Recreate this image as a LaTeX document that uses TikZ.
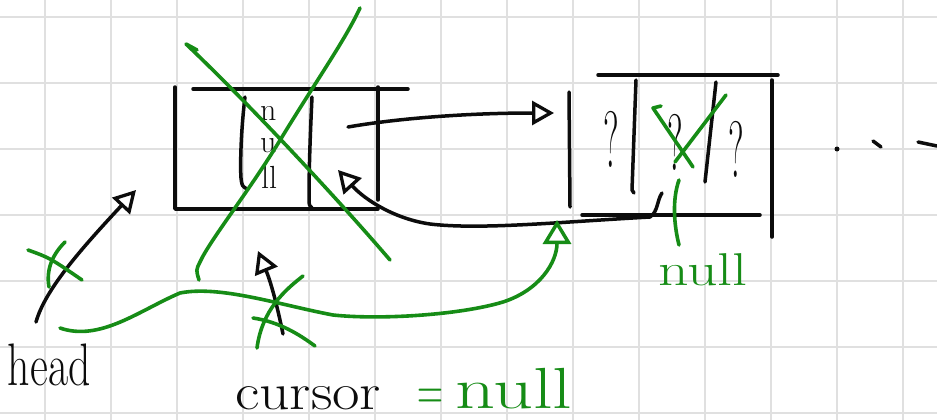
\documentclass[tikz,border=0pt]{standalone}
\usetikzlibrary{arrows.meta}
\definecolor{pen}{RGB}{12,12,12}
\definecolor{grn}{RGB}{22,140,22}
\definecolor{gridc}{RGB}{224,224,224}
\tikzset{
  ink/.style={pen, line width=3.5pt, line cap=round, line join=round},
  gink/.style={grn, line width=3.6pt, line cap=round, line join=round},
  gridl/.style={gridc, line width=1.8pt},
  tipk/.style={-{Triangle[open, length=22pt, width=24pt, line width=3.3pt]}},
  tipg/.style={-{Triangle[open, length=24pt, width=28pt, line width=3.5pt]}},
  lbl/.style={anchor=base west, inner sep=0pt, outer sep=0pt},
}
\begin{document}
\begin{tikzpicture}[x=1pt,y=-1pt]
\useasboundingbox (0,0) rectangle (937,420);
\fill[white] (0,0) rectangle (937,420);
% grid paper
\foreach \gx in {45,111,...,903} \draw[gridl] (\gx,0) -- (\gx,420);
\foreach \gy in {17,83,...,413} \draw[gridl] (0,\gy) -- (937,\gy);

% ---------- first node ----------
\draw[ink] (175,87) -- (175,209) -- (378,209);
\draw[ink] (193,89) -- (408,89);
\draw[ink] (245,97) .. controls (241,130) and (240,165) .. (241,178) .. controls (242,186) .. (247,189);
\draw[ink] (312,97) .. controls (310,140) and (309,170) .. (309,198) .. controls (309,205) .. (312,208);
\draw[ink] (378,87) -- (378,200);
\node[lbl, pen] (n1) at (260,121) {\fontsize{32}{32}\selectfont n};
\node[lbl, pen] (n2) at (260,152) {\fontsize{32}{32}\selectfont u};
\node[lbl, pen] (n3) at (261,188) {\fontsize{32}{32}\selectfont ll};

% ---------- second node ----------
\draw[ink] (569,92) -- (570,207);
\draw[ink] (598,75) -- (778,75);
\draw[ink] (636,80) -- (632,190) -- (634,193);
\draw[ink] (716,82) -- (705,182);
\draw[ink] (772,80) -- (772,237);
\draw[ink] (582,215) -- (760,215);
\node[lbl, pen] (q1) at (603,167) {\scalebox{0.45}[1]{\fontsize{80}{80}\selectfont ?}};
\node[lbl, pen] (q2) at (667,170) {\scalebox{0.45}[1]{\fontsize{80}{80}\selectfont ?}};
\node[lbl, pen] (q3) at (728,177) {\scalebox{0.45}[1]{\fontsize{80}{80}\selectfont ?}};

% continuation dots
\fill[pen] (837,149) circle (2.5pt);
\draw[ink] (873,141) -- (881,147);
\draw[ink] (918,142) -- (937,146);

% ---------- arrows (black) ----------
\coordinate (a1s) at (348,127);
\coordinate (a1e) at (554,113);
\draw[ink, tipk] (a1s) .. controls (400,118) and (470,113) .. (a1e);

\coordinate (b0) at (662,193);
\coordinate (b1) at (650,217);
\coordinate (b2) at (338,170);
\draw[ink] (b0) .. controls (657,200) and (658,212) .. (b1);
\draw[ink, tipk] (b1) .. controls (560,222) and (480,230) .. (430,224) .. controls (395,219) and (365,200) .. (b2);

\coordinate (h0) at (36,322);
\coordinate (h1) at (136,190);
\draw[ink, tipk] (h0) .. controls (45,290) and (80,250) .. (h1);

\coordinate (c0) at (283,334);
\coordinate (c1) at (258,251);
\draw[ink, tipk] (c0) .. controls (276,300) and (270,280) .. (c1);

% ---------- green corrections ----------
\draw[gink] (197,50) -- (186,44) .. controls (240,95) and (330,190) .. (390,260);
\draw[gink] (360,8) .. controls (345,40) and (320,75) .. (282,137) .. controls (250,190) and (210,240) .. (200,262) .. controls (196,270) .. (199,280);
\draw[gink] (28,250) .. controls (50,258) .. (82,280);
\draw[gink] (65,242) .. controls (52,255) and (46,270) .. (49,287);
\draw[gink] (303,276) .. controls (285,290) and (262,310) .. (257,348);
\draw[gink] (253,318) .. controls (280,322) and (300,335) .. (315,346);

\coordinate (g0) at (60,328);
\coordinate (g1) at (557,220);
\draw[gink, tipg] (g0) .. controls (100,342) and (140,310) .. (180,293) .. controls (220,285) and (280,305) .. (333,315) .. controls (380,320) and (460,315) .. (503,302) .. controls (540,290) and (557,262) .. (g1);

\draw[gink] (661,106) -- (653,108) -- (693,167);
\draw[gink] (726,95) -- (675,162);
\draw[gink] (679,180) .. controls (672,200) and (674,225) .. (679,245);

% ---------- labels ----------
\node[lbl, pen] (head) at (8,385) {\scalebox{0.73}[1]{\fontsize{60}{60}\selectfont head}};
\node[lbl, pen] (cur) at (235,409) {\scalebox{1.15}[1]{\fontsize{52}{52}\selectfont cursor}};
\node[lbl, grn] (eq) at (417,410) {\scalebox{0.6}[1]{\fontsize{60}{60}\selectfont =}};
\node[lbl, grn] (nul) at (455,408) {\scalebox{1.35}[1]{\fontsize{58}{58}\selectfont null}};
\node[lbl, grn] (nul2) at (658,285) {\scalebox{1.3}[1]{\fontsize{46}{46}\selectfont null}};
\end{tikzpicture}
\end{document}
